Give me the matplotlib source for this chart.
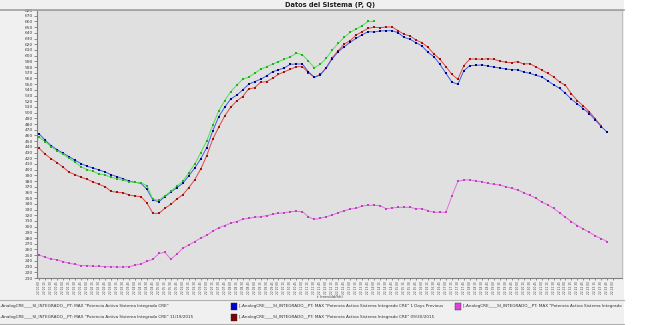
import matplotlib
matplotlib.use("Agg")
import matplotlib.pyplot as plt
from matplotlib.patches import Rectangle
from matplotlib.lines import Line2D

# ---------------- data ----------------
blue_vals = [462.5, 451.5, 442, 435, 428.7, 422.7, 416.4, 410.5, 405.9, 402.9,
             399.4, 395.9, 391.2, 387.7, 384.2, 380.1, 377.8, 376, 365.5, 346.8,
             343.8, 352.6, 360.8, 368.4, 376, 389.4, 402.9, 419.2, 438.5, 467.8,
             492.9, 509.4, 523.9, 530.4, 539.7, 549.7, 554.3, 558.5, 564.3, 571.8,
             574.8, 578.8, 584.8, 585.3, 585.3, 571.8, 562, 566, 578.8, 594.6,
             606.9, 615.7, 623.4, 630.4, 636.7, 642, 641.4, 643.2, 643.7, 643.7,
             640.2, 632.1, 628.6, 622.7, 616.9, 605.8, 598.1, 584.8, 569, 553.7,
             549.7, 573.6, 582.4, 583, 583.6, 581.8, 580, 578.3, 576.5, 575.3,
             575.3, 571.3, 569, 565.5, 563, 556, 549, 542.7, 533.9, 523.4,
             515.2, 506.9, 498.1, 487.1, 475.4, 465.5]

green_vals = [456.7, 449, 440, 433, 427, 420, 413, 405, 400, 397,
              392.4, 390.6, 386.6, 384.2, 381.3, 378.9, 377.8, 377.1, 371.9, 348,
              346.3, 354.4, 362, 371.3, 379.5, 394.7, 409.9, 429.8, 450.3, 477.8,
              502.9, 520.9, 536.7, 547.9, 558.5, 562, 569, 576, 580.6, 584.8,
              589.4, 593.5, 598.1, 604.1, 601.6, 590.6, 578.8, 584.8, 595.3, 609.9,
              621.6, 632.1, 640.9, 646.7, 652.5, 660, 660]

red_vals = [437.4, 426.9, 419.2, 412.2, 404.2, 395.4, 391.2, 386.6, 383.1, 378.4,
            374.3, 370.1, 362, 360.3, 359.7, 355.6, 353.8, 352.6, 341.5, 323.4,
            323.4, 332.2, 339.2, 348.5, 356.1, 368.4, 382.4, 401.2, 424.5, 453.3,
            474.3, 494.1, 509.4, 520.4, 528, 541.5, 543.7, 553.2, 554.3, 560.2,
            567.2, 571.8, 576, 580.6, 580.6, 570, 562, 567.2, 578.8, 596.4,
            608.7, 620.4, 626.2, 636.2, 642, 647.9, 649.7, 649, 650.2, 650.2,
            643.7, 637.4, 634.4, 627.4, 622.7, 614.6, 602.9, 593.5, 580.6, 567.2,
            558.5, 582.4, 594.1, 594.1, 593.5, 594.6, 593.5, 590.6, 588.3, 587.6,
            589.4, 585.3, 585.9, 580.6, 574.8, 569, 563, 553.7, 547.9, 532.7,
            520.9, 511.6, 501.6, 488.8, 476.6]

magenta_vals = [250.3, 246.3, 243.3, 242.1, 238.6, 235.7, 234, 231.6, 231.6, 230.5,
                230.5, 229.8, 229.8, 229.3, 229.3, 230, 232, 235, 239, 243,
                253, 255, 243, 252, 262, 268, 274, 280, 285, 292,
                298, 302, 306, 309, 312.9, 314.7, 316.4, 317.5, 319.3, 321.7,
                323.4, 324.5, 326.3, 327, 326.3, 317.5, 312.9, 314.7, 317.5, 320.5,
                324.5, 328, 331, 332.2, 336.3, 337.5, 337.5, 336.9, 331.5, 332.8,
                334, 334, 334, 331.5, 331.5, 328, 325.2, 325.2, 325.2, 353.8,
                379.5, 381.9, 381.9, 380.1, 378.9, 376, 374.3, 373.1, 370.1, 367.3,
                364.3, 359.7, 355, 350.3, 343.3, 338.6, 332.2, 324.5, 316.4, 309,
                302, 296, 290, 284, 279, 274]

hours = [f"22 {(i * 15) // 60:02d} {(i * 15) % 60:02d}" for i in range(97)]
y_ticks = list(range(210, 681, 10))

legend_texts = [
    '-AnalogCRE____SI_INTEGRADO__PT: MAX "Potencia Activa Sistema Integrado CRE"',
    '[-AnalogCRE____SI_INTEGRADO__PT: MAX "Potencia Activa Sistema Integrado CRE" 1 Days Previous',
    '[-AnalogCRE____SI_INTEGRADO__PT: MAX "Potencia Activa Sistema Integrado',
    '-AnalogCRE____SI_INTEGRADO__PT: MAX "Potencia Activa Sistema Integrado CRE" 11/19/2015',
    '[-AnalogCRE____SI_INTEGRADO__PT: MAX "Potencia Activa Sistema Integrado CRE" 09/30/2015',
]

# ---------------- figure ----------------
W, H = 650, 325
fig = plt.figure(figsize=(W / 100, H / 100), dpi=100)
fig.patch.set_facecolor("white")

def px(x0, y0, w, h):
    return [x0 / W, 1 - (y0 + h) / H, w / W, h / H]

# background panels
bg = fig.add_axes(px(0, 0, 624, 325), zorder=-5)
bg.set_facecolor("#f0f0f0")
bg.set_xticks([]); bg.set_yticks([])
for s in bg.spines.values():
    s.set_visible(False)

fig.add_artist(Line2D([0, 624 / W], [1 - 9.5 / H] * 2, color="#a0a0a0", lw=1.2))
fig.add_artist(Line2D([0, 624 / W], [1 - 300 / H] * 2, color="#b0b0b0", lw=0.8))
fig.add_artist(Line2D([0, 624 / W], [1 - 323.5 / H] * 2, color="#b0b0b0", lw=0.8))
fig.text(330 / W, 1 - 4.5 / H, "Datos del Sistema (P, Q)", ha="center", va="center",
         fontsize=4.8, fontweight="bold", color="#202020")

ax = fig.add_axes(px(37, 10, 585, 268))
ax.set_facecolor("#e0e0e0")

def draw(vals, lc, mc):
    x = list(range(len(vals)))
    ax.plot(x, vals, color=lc, lw=0.7, marker="s", markersize=1.6,
            markerfacecolor=mc, markeredgecolor=mc, markeredgewidth=0)

draw(magenta_vals, "#e070e0", "#c040c0")
draw(red_vals, "#e04848", "#a01010")
draw(blue_vals, "#4060e0", "#000090")
draw(green_vals, "#50e050", "#20b020")

ax.set_xlim(-0.385, 97.45)
ax.set_ylim(210, 680)
ax.set_yticks(y_ticks)
ax.set_yticklabels([str(v) for v in y_ticks])
ax.set_xticks(range(len(hours)))
ax.set_xticklabels(hours, rotation=90)
ax.tick_params(axis="y", labelsize=3.2, length=2, width=0.4, pad=1, colors="#404040")
ax.tick_params(axis="x", labelsize=2.1, length=1.5, width=0.4, pad=0.6, colors="#404040")
for side in ["top", "right"]:
    ax.spines[side].set_color("#c0c0c0")
for side in ["left", "bottom"]:
    ax.spines[side].set_color("#808080")
    ax.spines[side].set_linewidth(0.8)

fig.text(330 / W, 1 - 296.5 / H, "t (mm/dd/hh)", ha="center", va="center",
         fontsize=2.8, color="#404040")

# legend
leg_rows = [306, 317]
leg_cols = [0, 239, 463]
entries = [
    (0, 0, None, legend_texts[0]),
    (1, 0, "#0000d0", legend_texts[1]),
    (2, 0, "#e040e0", legend_texts[2]),
    (0, 1, None, legend_texts[3]),
    (1, 1, "#800000", legend_texts[4]),
]
for c, r, col, txt in entries:
    x0 = leg_cols[c]
    y0 = leg_rows[r]
    if col is not None:
        fig.add_artist(Rectangle(((x0 - 8) / W, 1 - (y0 + 3.5) / H), 6 / W, 7 / H,
                                 facecolor=col, edgecolor="#303030", lw=0.3))
    fig.text(x0 / W, 1 - y0 / H, txt, ha="left", va="center", fontsize=3.0,
             color="#303030")

fig.savefig("out.png", dpi=100)
